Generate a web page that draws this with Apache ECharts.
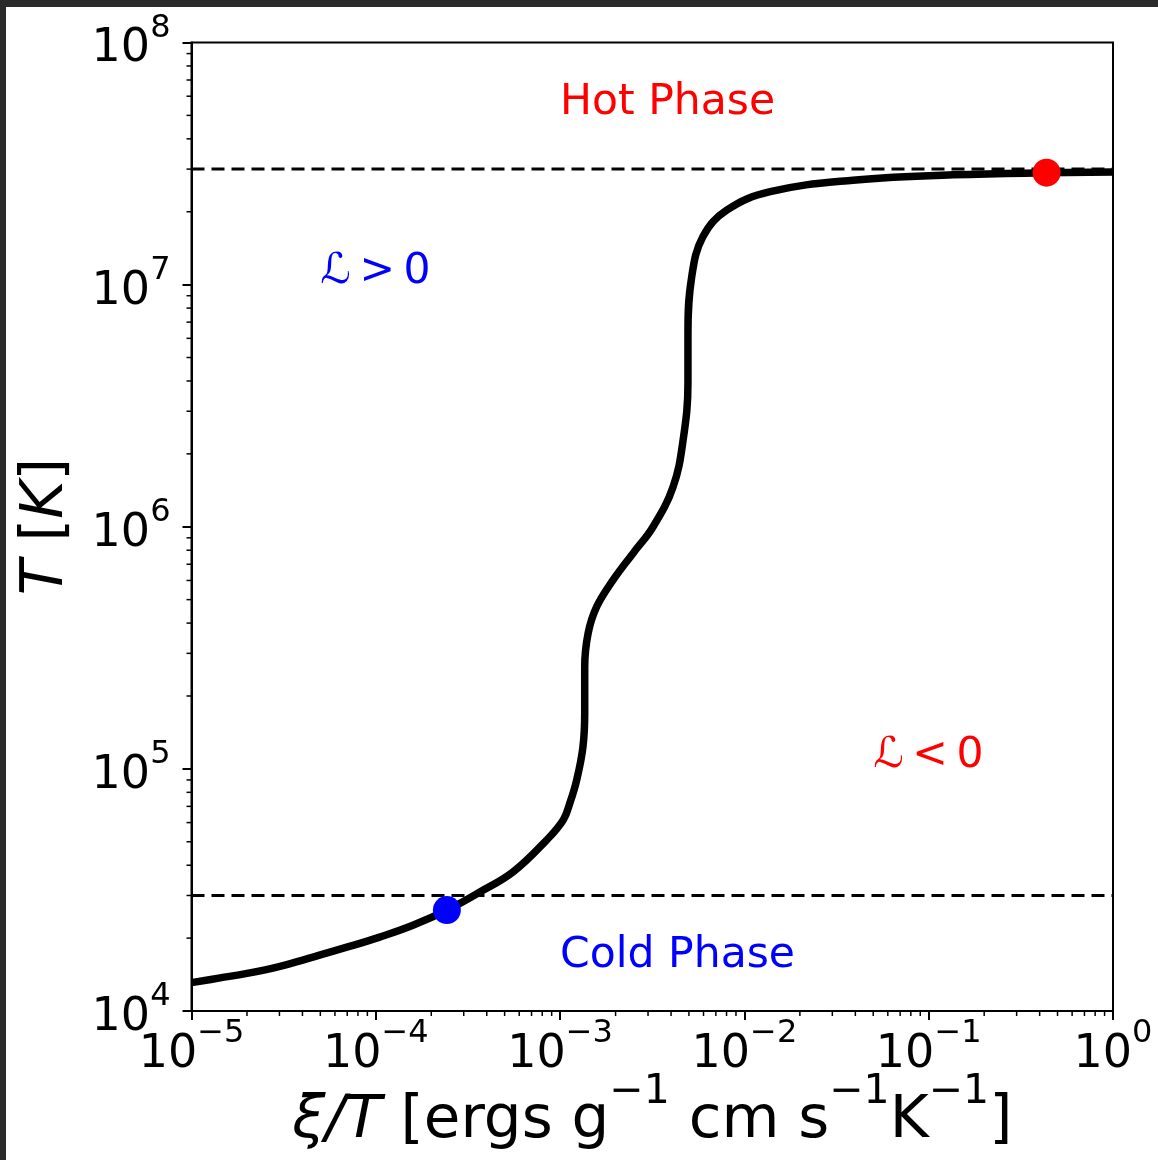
<!DOCTYPE html>
<html>
<head>
<meta charset="utf-8">
<script src="https://cdn.jsdelivr.net/npm/echarts@6/dist/echarts.min.js"></script>
<style>
html,body{margin:0;padding:0;background:#fff;}
#chart{width:1158px;height:1160px;}
</style>
</head>
<body>
<div id="chart"></div>
<script>
// ---- data ----
const xiT = [1.0e-5, 1.43e-5, 2.0e-5, 3.02e-5, 4.56e-5, 6.89e-5, 1.05e-4, 1.59e-4, 2.43e-4, 3.67e-4,
             5.55e-4, 8.45e-4, 1.04e-3, 1.13e-3, 1.23e-3, 1.33e-3, 1.36e-3, 1.36e-3, 1.42e-3, 1.58e-3,
             1.94e-3, 2.49e-3, 3.19e-3, 4.10e-3, 4.65e-3, 4.94e-3, 4.94e-3, 5.18e-3, 5.96e-3, 8.02e-3,
             1.38e-2, 3.88e-2, 1.355e-1, 1.0];
const temp = [1.31e4, 1.37e4, 1.43e4, 1.53e4, 1.67e4, 1.83e4, 2.02e4, 2.26e4, 2.61e4, 3.10e4,
              3.75e4, 5.08e4, 6.15e4, 7.23e4, 8.99e4, 1.23e5, 1.70e5, 2.63e5, 3.64e5, 4.68e5,
              6.03e5, 7.78e5, 9.98e5, 1.46e6, 2.28e6, 3.93e6, 6.31e6, 1.08e7, 1.58e7, 2.03e7,
              2.42e7, 2.70e7, 2.84e7, 2.92e7];
const phaseLevels = [3e4, 3e7];
const coldPoint = [2.43e-4, 2.61e4];
const hotPoint = [0.436, 2.90e7];
const annotText = ['Hot Phase', 'ℒ\u2009>\u20090', 'ℒ\u2009<\u20090', 'Cold Phase'];
const annotX = [1e-3, 5e-5, 5e-2, 1e-3];
const annotY = [5e7, 1e7, 1e5, 1.5e4];
const annotColor = ['#ff0000', '#0000ff', '#ff0000', '#0000ff'];
const xRange = [1e-5, 1];
const yRange = [1e4, 1e8];
const xDecades = [-5, -4, -3, -2, -1];
const yDecades = [4, 5, 6, 7];
const minorMult = [2, 3, 4, 5, 6, 7, 8, 9];

const FONT = 'DejaVu Sans';
const chart = echarts.init(document.getElementById('chart'), null, {renderer: 'canvas'});

function sup(e) { return e < 0 ? '\u2212' + (-e) : String(e); }
function tickFmt(v) {
  const e = Math.round(Math.log10(v));
  return '{b|10}{s|' + sup(e) + '}';
}
const tickRich = {
  b: {fontSize: 46, fontFamily: FONT, color: '#000', lineHeight: 60, verticalAlign: 'bottom'},
  s: {fontSize: 32, fontFamily: FONT, color: '#000', lineHeight: 30, verticalAlign: 'top'}
};

const xMinor = [];
xDecades.forEach(k => minorMult.forEach(m => xMinor.push([m * Math.pow(10, k), yRange[0]])));
const yMinor = [];
yDecades.forEach(k => minorMult.forEach(m => yMinor.push([xRange[0], m * Math.pow(10, k)])));

const curve = xiT.map((x, i) => [x, temp[i]]);
const annot = annotText.map((t, i) => ({value: [annotX[i], annotY[i]], name: t,
  label: {color: annotColor[i]}}));

const option = {
  backgroundColor: '#ffffff',
  animation: false,
  grid: {left: 191.5, right: 45, top: 42.5, bottom: 149, show: true, outerBoundsMode: 'none',
         containLabel: false,
         borderColor: '#000', borderWidth: 2, backgroundColor: '#fff'},
  xAxis: {
    type: 'log', logBase: 10, min: xRange[0], max: xRange[1], splitNumber: 5,
    axisLine: {show: true, onZero: false, lineStyle: {color: '#000', width: 2}},
    axisTick: {show: true, inside: false, length: 9, lineStyle: {color: '#000', width: 2}},
    splitLine: {show: false},
    axisLabel: {formatter: tickFmt, rich: tickRich, margin: 7, hideOverlap: false},
    name: '{i|ξ/T}{b| [ergs g}{s|\u22121}{b| cm s}{s|\u22121}{b|K}{s|\u22121}{b|]}',
    nameLocation: 'middle', nameGap: 61, nameMoveOverlap: false,
    nameTextStyle: {
      rich: {
        i: {fontSize: 59.5, fontFamily: FONT, fontStyle: 'italic', color: '#000', lineHeight: 80, verticalAlign: 'bottom'},
        b: {fontSize: 59.5, fontFamily: FONT, color: '#000', lineHeight: 80, verticalAlign: 'bottom'},
        s: {fontSize: 41, fontFamily: FONT, color: '#000', lineHeight: 44, verticalAlign: 'top'}
      }
    }
  },
  yAxis: {
    type: 'log', logBase: 10, min: yRange[0], max: yRange[1], splitNumber: 4,
    axisLine: {show: true, onZero: false, lineStyle: {color: '#000', width: 2}},
    axisTick: {show: true, inside: false, length: 9, lineStyle: {color: '#000', width: 2}},
    splitLine: {show: false},
    axisLabel: {formatter: tickFmt, rich: tickRich, margin: 21, hideOverlap: false},
    name: '{i|T}{b| [}{i|K}{b|]}',
    nameLocation: 'middle', nameGap: 110, nameRotate: 90,
    nameTextStyle: {
      rich: {
        i: {fontSize: 58, fontFamily: FONT, fontStyle: 'italic', color: '#000', lineHeight: 70},
        b: {fontSize: 58, fontFamily: FONT, color: '#000', lineHeight: 70}
      }
    }
  },
  graphic: [
    {type: 'rect', shape: {x: 0, y: 0, width: 1158, height: 7}, style: {fill: '#2b2b2b'}, z: 100},
    {type: 'rect', shape: {x: 0, y: 0, width: 6, height: 1160}, style: {fill: '#2b2b2b'}, z: 100}
  ],
  series: [
    {
      type: 'custom', clip: false, silent: true, data: xMinor,
      renderItem: function (params, api) {
        const p = api.coord([api.value(0), api.value(1)]);
        return {type: 'line', shape: {x1: p[0], y1: p[1], x2: p[0], y2: p[1] + 5},
                style: {stroke: '#000', lineWidth: 1.5}};
      }
    },
    {
      type: 'custom', clip: false, silent: true, data: yMinor,
      renderItem: function (params, api) {
        const p = api.coord([api.value(0), api.value(1)]);
        return {type: 'line', shape: {x1: p[0] - 5, y1: p[1], x2: p[0], y2: p[1]},
                style: {stroke: '#000', lineWidth: 1.5}};
      }
    },
    ...phaseLevels.map(v => ({
      type: 'line', data: [[xRange[0], v], [xRange[1], v]], symbol: 'none',
      lineStyle: {color: '#000', width: 3, type: [13, 7]}, z: 2, silent: true
    })),
    {
      type: 'line', data: curve, symbol: 'none', smooth: 0.4,
      lineStyle: {color: '#000', width: 7.5, cap: 'butt', join: 'round'}, z: 3, silent: true
    },
    {
      type: 'scatter', data: [coldPoint], symbol: 'circle', symbolSize: 28,
      itemStyle: {color: '#0000ff', opacity: 1}, z: 5, silent: true
    },
    {
      type: 'scatter', data: [hotPoint], symbol: 'circle', symbolSize: 28,
      itemStyle: {color: '#ff0000', opacity: 1}, z: 5, silent: true
    },
    {
      type: 'scatter', data: annot, symbolSize: 0, z: 6, silent: true,
      itemStyle: {opacity: 1},
      label: {show: true, position: 'inside', formatter: '{b}', fontFamily: FONT, fontSize: 42.5,
              opacity: 1, align: 'left', verticalAlign: 'bottom', offset: [0, 9]}
    }
  ]
};
chart.setOption(option);
</script>
</body>
</html>
